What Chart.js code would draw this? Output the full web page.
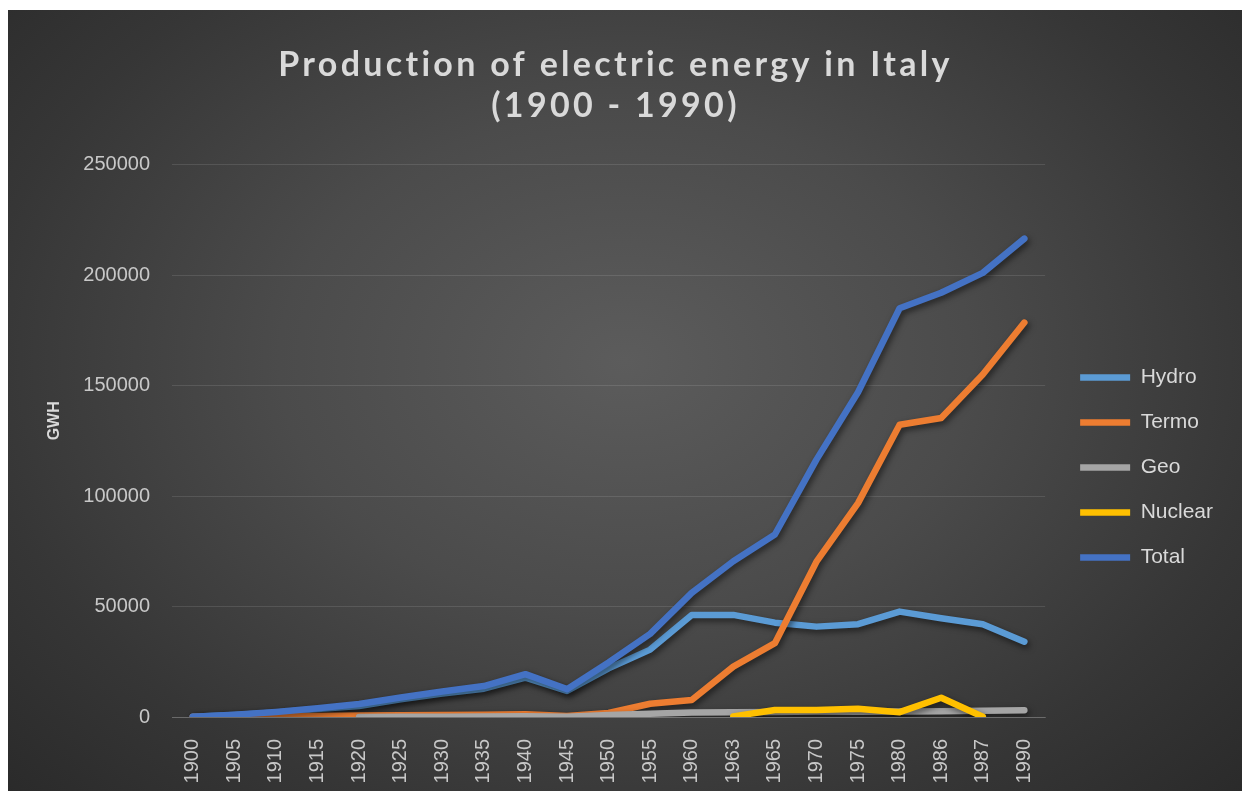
<!DOCTYPE html>
<html><head><meta charset="utf-8">
<script src="https://cdn.jsdelivr.net/npm/chart.js@4.4.1/dist/chart.umd.min.js"></script>
<style>
html,body{margin:0;padding:0;background:#fff;width:1242px;height:791px;overflow:hidden}
#wrap{position:absolute;left:8px;top:10px;width:1234px;height:781px;
background:radial-gradient(ellipse 70% 80% at 50% 45%, #5c5c5c 0%, #4b4b4b 40%, #363636 75%, #2a2a2a 100%)}
canvas{display:block}
</style></head><body><div id="wrap"><canvas id="c" width="1234" height="781"></canvas></div>
<script>
const years = ['1900','1905','1910','1915','1920','1925','1930','1935','1940','1945','1950','1955','1960','1963','1965','1970','1975','1980','1986','1987','1990'];
const hydro   = [100, 900, 2000, 3600, 5000, 8000, 10600, 12800, 17800, 11800, 22000, 30500, 46200, 46200, 42700, 40900, 42000, 47700, 44700, 42000, 34100];
const termo   = [0, 200, 300, 500, 700, 800, 900, 1000, 1300, 500, 1800, 6000, 7700, 22800, 33400, 70300, 96800, 132300, 135300, 155000, 178500];
const geo     = [null, null, null, null, 50, 100, 100, 200, 300, 100, 900, 1500, 2000, 2200, 2300, 2500, 2400, 2500, 2600, 2800, 3100];
const nuclear = [null, null, null, null, null, null, null, null, null, null, null, null, null, 300, 3200, 3200, 3700, 2200, 8700, 100, null];
const total   = [100, 1000, 2300, 4000, 5900, 8800, 11500, 14000, 19400, 12600, 24700, 37600, 56200, 70500, 82600, 116500, 147000, 185000, 192000, 201000, 216500];
const yTicks  = [0, 50000, 100000, 150000, 200000, 250000];

const FONT = "'Liberation Sans', Arial, sans-serif";
function ds(label, data, color, order){
  return {label, data, borderColor: color, backgroundColor: color, borderWidth: 6.5,
    pointRadius: 0, pointHoverRadius: 0, tension: 0, fill: false, spanGaps: false,
    borderCapStyle: 'round', borderJoinStyle: 'round', order};
}
const shadowPlugin = {
  id: 'shadow',
  beforeDatasetDraw(chart){ const c = chart.ctx; c.save(); c.shadowColor = 'rgba(0,0,0,0.55)'; c.shadowBlur = 6; c.shadowOffsetX = 2; c.shadowOffsetY = 3; },
  afterDatasetDraw(chart){ chart.ctx.restore(); }
};
const titleSpacing = {
  id: 'titleSpacing',
  afterLayout(chart){
    const t = chart.titleBlock;
    if (t && !t._spaced){
      const orig = t.draw.bind(t);
      t.draw = function(){ const c = chart.ctx; const old = c.letterSpacing; c.letterSpacing = '3.3px'; orig(...arguments); c.letterSpacing = old || '0px'; };
      t._spaced = true;
    }
  }
};
new Chart(document.getElementById('c'), {
  type: 'line',
  data: {
    labels: years,
    datasets: [
      ds('Hydro', hydro, '#5B9BD5', 4),
      ds('Termo', termo, '#ED7D31', 3),
      ds('Geo', geo, '#A5A5A5', 2),
      ds('Nuclear', nuclear, '#FFC000', 1),
      ds('Total', total, '#4472C4', 0)
    ]
  },
  plugins: [shadowPlugin, titleSpacing],
  options: {
    responsive: false, animation: false, devicePixelRatio: 1,
    layout: {padding: {left: 0, right: 19, top: 0, bottom: 0}},
    plugins: {
      tooltip: {enabled: false},
      title: {display: true, text: ['Production of electric energy in Italy', '(1900 - 1990)'],
        color: '#d9d9d9', font: {family: "Lato, 'Liberation Sans', sans-serif", size: 34, weight: 'bold', lineHeight: 1.2},
        padding: {top: 34.5, bottom: 38.5}},
      legend: {
        display: true, position: 'right', fullSize: false,
        title: {display: true, text: ' ', font: {size: 8}, padding: {top: 44, bottom: 0}},
        labels: {color: '#d9d9d9', font: {family: FONT, size: 21}, usePointStyle: true,
          pointStyle: 'line', pointStyleWidth: 50, padding: 24,
          sort: (a, b) => a.datasetIndex - b.datasetIndex}
      }
    },
    scales: {
      x: {
        offset: true,
        grid: {display: false, drawTicks: false},
        border: {display: true, color: 'rgba(255,255,255,0.18)', width: 1},
        ticks: {color: '#c8c8c8', font: {family: FONT, size: 20}, minRotation: 90, maxRotation: 90, autoSkip: false, padding: 22},
        afterFit(s){ s.height = 74; }
      },
      y: {
        min: 0, max: 250000,
        afterBuildTicks(s){ s.ticks = yTicks.map(v => ({value: v})); },
        grid: {color: 'rgba(255,255,255,0.11)', lineWidth: 1, drawTicks: false},
        border: {display: false},
        ticks: {color: '#c8c8c8', font: {family: FONT, size: 20}, padding: 22, callback: v => String(v)},
        title: {display: true, text: '         GWH', color: '#d9d9d9', font: {family: FONT, size: 16, weight: 'bold'}, padding: {top: 37, bottom: 0}},
        afterFit(s){ s.width = 164; }
      },
      yR: {
        position: 'right', display: true,
        grid: {display: false, drawTicks: false}, border: {display: false},
        ticks: {display: false},
        afterFit(s){ s.width = 11; }
      }
    }
  }
});
</script></body></html>
